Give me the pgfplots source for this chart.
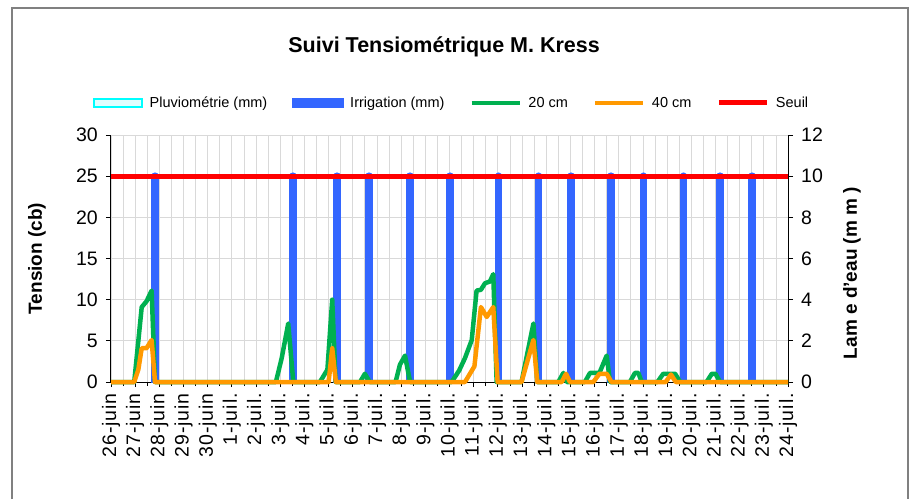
\documentclass[border=0pt]{standalone}
\usepackage{fontspec}
\setmainfont{Liberation Sans}
\usepackage{pgfplots}
\pgfplotsset{compat=1.18}

\definecolor{vert}{HTML}{00B050}
\definecolor{orangeC}{HTML}{FF9900}
\definecolor{rouge}{HTML}{FF0000}
\definecolor{bleu}{HTML}{3366FF}
\definecolor{cyanC}{HTML}{00FFFF}
\definecolor{grille}{HTML}{D9D9D9}

\pgfplotsset{
  commun/.style={
    at={(111pt,117pt)}, anchor=south west,
    scale only axis, width=677pt, height=247pt,
    xmin=0, xmax=28,
    /pgf/number format/assume math mode=true,
    axis line style={black, line width=1pt},
    tick style={black, line width=0.8pt},
    tick align=outside,
    major tick length=5pt, minor tick length=4pt,
  },
}

\begin{document}
\begin{tikzpicture}[x=1pt,y=1pt]
\path[use as bounding box] (0,0) rectangle (916,499);
\draw[gray, line width=1.2pt] (12,0) -- (12,491) -- (908,491) -- (908,0);

% axe gauche : grille, graduations, dates
\begin{axis}[commun,
  ymin=0, ymax=30, ytick={0,5,...,30},
  axis x line*=bottom, axis y line*=left,
  xtick={0,...,28}, minor x tick num=1,
  xmajorgrids, xminorgrids, ymajorgrids,
  major grid style={grille, line width=0.8pt},
  minor grid style={grille, line width=0.8pt},
  xticklabels={26-juin,27-juin,28-juin,29-juin,30-juin,1-juil.,2-juil.,3-juil.,4-juil.,5-juil.,6-juil.,7-juil.,8-juil.,9-juil.,10-juil.,11-juil.,12-juil.,13-juil.,14-juil.,15-juil.,16-juil.,17-juil.,18-juil.,19-juil.,20-juil.,21-juil.,22-juil.,23-juil.,24-juil.},
  xticklabel style={rotate=90, anchor=east, inner sep=0pt, xshift=-6pt,
    font=\fontsize{19.5}{20}\selectfont\addfontfeature{LetterSpace=5}},
  yticklabel style={anchor=east, inner sep=0pt, xshift=-8pt, font=\fontsize{19.5}{20}\selectfont},
  ylabel={Tension (cb)},
  ylabel style={at={(axis description cs:-0.1093,0.5)}, anchor=center,
    font=\fontsize{19}{20}\selectfont\bfseries},
  title={Suivi Tensiométrique M. Kress},
  title style={at={(axis description cs:0.492,1.332)}, anchor=center,
    font=\fontsize{21.5}{22}\selectfont\bfseries},
]
\end{axis}

% axe droit : lame d'eau (irrigation)
\begin{axis}[commun,
  ymin=0, ymax=12, ytick={0,2,...,12},
  axis x line=none, axis y line*=right,
  yticklabel style={anchor=west, inner sep=0pt, xshift=8pt, font=\fontsize{19.5}{20}\selectfont},
  ylabel={Lam e d'eau (m m )},
  ylabel style={at={(axis description cs:1.0945,0.441)}, anchor=center,
    font=\fontsize{19}{20}\selectfont\bfseries},
]
\addplot[ycomb, bleu, line width=7.5pt, line cap=round] coordinates {
  (1.83,10) (7.52,10) (9.35,10) (10.68,10) (12.36,10) (14.02,10) (16.03,10)
  (17.69,10) (19.03,10) (20.67,10) (22.02,10) (23.68,10) (25.19,10) (26.52,10)
};
\end{axis}

% courbes de tension + seuil
\begin{axis}[commun,
  ymin=0, ymax=30, hide axis, clip=false,
  legend columns=5,
  legend style={at={(axis description cs:-0.0273,1.1296)}, anchor=west,
    draw=none, fill=none, inner sep=0pt,
    font=\fontsize{14.5}{16}\selectfont,
    nodes={inner sep=2.5pt},
    /tikz/every odd column/.append style={column sep=4pt},
    /tikz/every even column/.append style={column sep=22.5pt}},
  legend image code/.code={\draw[#1] (0pt,0pt) -- (48pt,0pt);},
]
\addlegendimage{legend image code/.code={\draw[cyanC, line width=2.5pt, fill=cyanC!12] (0pt,-4pt) rectangle (48pt,4pt);}}
\addlegendentry{Pluviométrie (mm)}
\addlegendimage{legend image code/.code={\fill[bleu] (-1pt,-4.5pt) rectangle (50pt,4.5pt);}}
\addlegendentry{Irrigation (mm)}

\addplot[vert, line width=4.5pt, line join=round] coordinates {
  (0,0) (0.96,0) (1.27,9.1) (1.47,9.8) (1.68,11.1) (1.82,0)
  (6.82,0) (7.06,2.9) (7.33,7.1) (7.54,0)
  (8.64,0) (8.95,1.5) (9.15,10.0) (9.29,0)
  (10.3,0) (10.5,1.0) (10.7,0)
  (11.77,0) (11.95,2.1) (12.16,3.2) (12.37,0)
  (14.09,0) (14.4,1.4) (14.64,2.9) (14.92,5.1) (15.12,11.1) (15.3,11.2)
  (15.47,12.0) (15.67,12.2) (15.81,13.1) (15.95,0)
  (16.98,0) (17.47,7.1) (17.63,0)
  (18.5,0) (18.71,1.1) (18.85,0)
  (19.6,0) (19.81,1.1) (20.2,1.1) (20.5,3.2) (20.64,0)
  (21.46,0) (21.67,1.1) (21.81,1.1) (21.95,0)
  (22.6,0) (22.84,1.0) (23.33,1.0) (23.54,0)
  (24.63,0) (24.85,1.0) (25.0,1.0) (25.19,0)
  (28,0)
};
\addlegendentry{20 cm}
\addplot[orangeC, line width=4.5pt, line join=round] coordinates {
  (0,0) (0.96,0) (1.13,1.5) (1.27,4.1) (1.47,4.1) (1.68,5.1) (1.82,0)
  (9.0,0) (9.15,4.1) (9.3,0)
  (14.64,0) (15.03,1.9) (15.3,9.1) (15.54,7.9) (15.81,9.1) (15.99,0)
  (16.98,0) (17.47,5.1) (17.63,0)
  (18.64,0) (18.82,1.0) (18.98,0)
  (19.95,0) (20.2,1.0) (20.5,1.0) (20.7,0)
  (22.94,0) (23.16,0.9) (23.36,0)
  (28,0)
};
\addlegendentry{40 cm}
\addplot[rouge, line width=5pt] coordinates {(0,25) (28,25)};
\addlegendentry{Seuil}
\end{axis}
\end{tikzpicture}
\end{document}
